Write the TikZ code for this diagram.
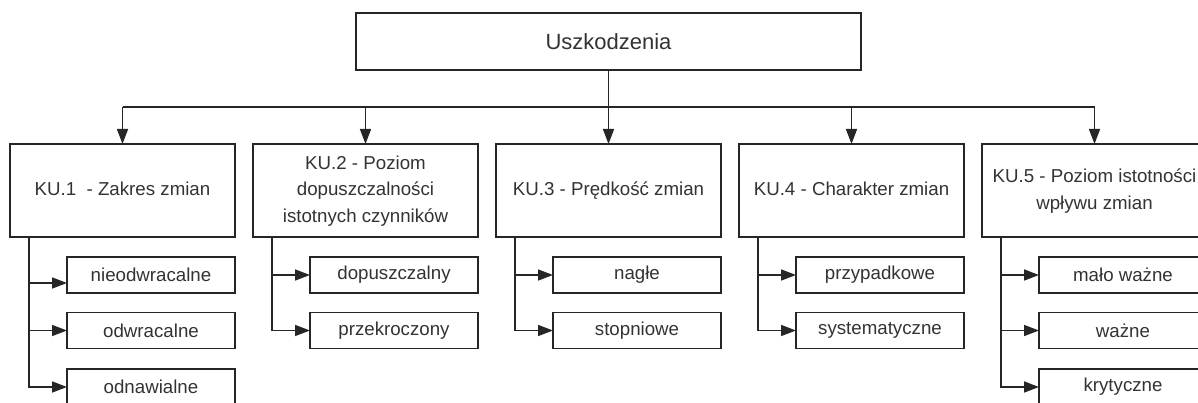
\documentclass[tikz,border=0pt]{standalone}
\usepackage{fontspec}
\setmainfont{Liberation Sans}
\usetikzlibrary{arrows.meta}
\newcommand{\diagfont}{\fontsize{18.7}{26.5}\selectfont}
\newcommand{\rootfont}{\fontsize{22}{26}\selectfont}
\newcommand{\kutext}[1]{\raisebox{-3pt}{\begin{tabular}{@{}c@{}}#1\end{tabular}}}
\begin{document}
\begin{tikzpicture}[x=1pt,y=-1pt,
  box/.style={draw=black!85, line width=1.5pt, inner sep=0pt, outer sep=0pt,
    align=center, font=\diagfont, text=black!80},
  rootbox/.style={box, minimum width=505pt, minimum height=57pt, font=\rootfont},
  kubox/.style={box, minimum width=225pt, minimum height=93pt},
  subbox/.style={box, minimum width=168pt, minimum height=36pt},
  wire/.style={line width=1.5pt, draw=black!85},
  conn/.style={wire, -{Triangle[length=15pt,width=11pt]}},
]
\useasboundingbox (0,0) rectangle (1198,403);
\fill[white] (0,0) rectangle (1198,403);

\node[rootbox] (root) at (608.5,41.5) {\raisebox{-2pt}{Uszkodzenia}};
\coordinate (bus) at (0,107);

\node[kubox] (ku1) at (122.5,190.5) {\kutext{KU.1 \ - Zakres zmian}};
\node[kubox] (ku2) at (365.5,190.5) {\kutext{KU.2 - Poziom\\dopuszczalności\\istotnych czynników}};
\node[kubox] (ku3) at (608.5,190.5) {\kutext{KU.3 - Prędkość zmian}};
\node[kubox] (ku4) at (851.5,190.5) {\kutext{KU.4 - Charakter zmian}};
\node[kubox] (ku5) at (1094.5,190.5) {\kutext{KU.5 - Poziom istotności\\wpływu zmian}};

% sub boxes
\node[subbox] (s11) at (151,275) {nieodwracalne};
\node[subbox] (s12) at (151,330.5) {odwracalne};
\node[subbox] (s13) at (151,387) {odnawialne};
\node[subbox] (s21) at (394,275) {dopuszczalny};
\node[subbox] (s22) at (394,330.5) {przekroczony};
\node[subbox] (s31) at (637,275) {nagłe};
\node[subbox] (s32) at (637,330.5) {stopniowe};
\node[subbox] (s41) at (880,275) {przypadkowe};
\node[subbox] (s42) at (880,330.5) {systematyczne};
\node[subbox] (s51) at (1123,275) {mało ważne};
\node[subbox] (s52) at (1123,330.5) {ważne};
\node[subbox] (s53) at (1123,387) {krytyczne};

% top-level connectors
\draw[conn] (root.south) -- (ku3.north);
\draw[wire] (ku1.north |- bus) -- (ku5.north |- bus);
\foreach \k in {ku1,ku2,ku4,ku5}{
  \draw[conn] (\k.north |- bus) -- (\k.north);
}

% sub-level connectors
\coordinate (b1) at ([xshift=19pt]ku1.south west);
\coordinate (b2) at ([xshift=19pt]ku2.south west);
\coordinate (b3) at ([xshift=19pt]ku3.south west);
\coordinate (b4) at ([xshift=19pt]ku4.south west);
\coordinate (b5) at ([xshift=19pt]ku5.south west);
\coordinate (e11) at ([yshift=-8pt]s11.west);

\draw[conn] (b1) |- (s13.west);
\draw[conn] (b1 |- e11) -- (e11);
\draw[conn] (b1 |- s12.west) -- (s12.west);

\draw[conn] (b2) |- (s22.west);
\draw[conn] (b2 |- s21.west) -- (s21.west);

\draw[conn] (b3) |- (s32.west);
\draw[conn] (b3 |- s31.west) -- (s31.west);

\draw[conn] (b4) |- (s42.west);
\draw[conn] (b4 |- s41.west) -- (s41.west);

\draw[conn] (b5) |- (s53.west);
\draw[conn] (b5 |- s51.west) -- (s51.west);
\draw[conn] (b5 |- s52.west) -- (s52.west);
\end{tikzpicture}
\end{document}
